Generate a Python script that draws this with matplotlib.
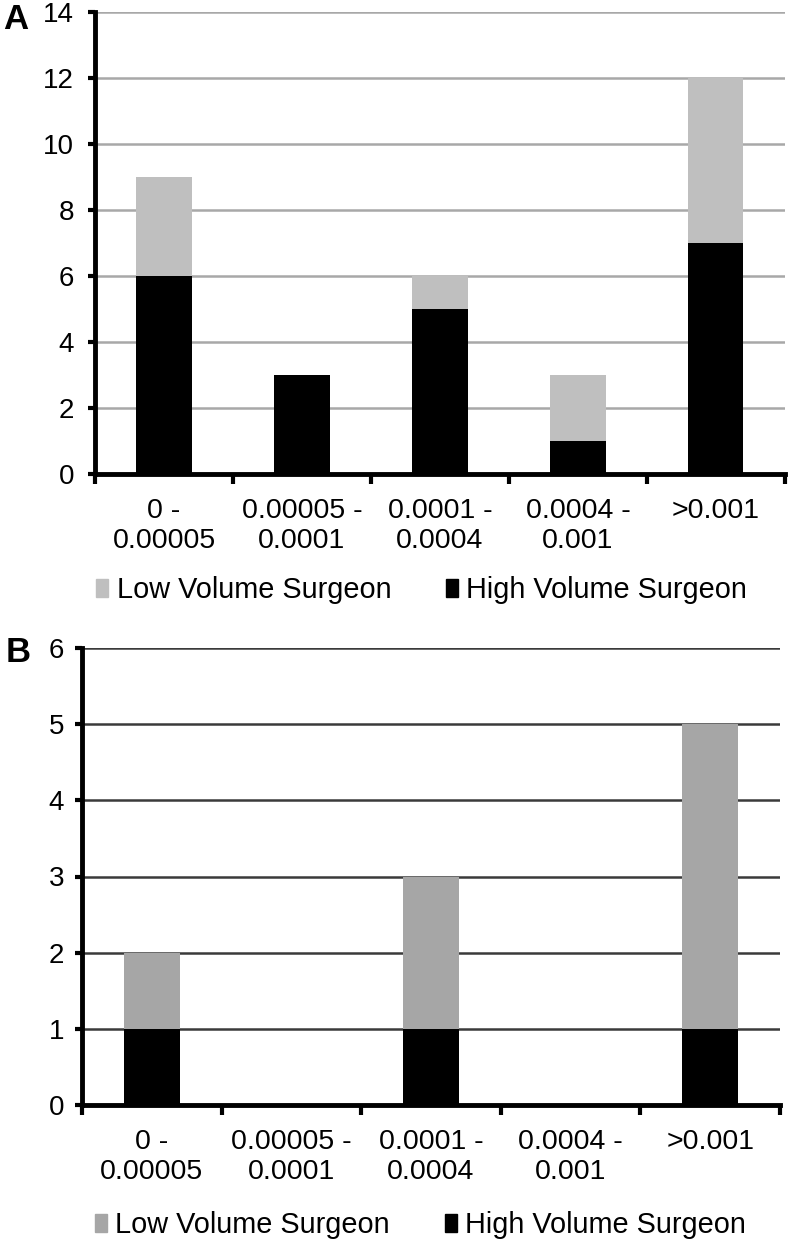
import matplotlib
matplotlib.use("Agg")
import matplotlib.pyplot as plt
import numpy as np
from matplotlib.patches import Patch

plt.rcParams["font.family"] = ["Liberation Sans", "DejaVu Sans"]

categories = ["0 -\n0.00005", "0.00005 -\n0.0001", "0.0001 -\n0.0004",
              "0.0004 -\n0.001", ">0.001"]
high_a = [6, 3, 5, 1, 7]
low_a = [3, 0, 1, 2, 5]
high_b = [1, 0, 1, 0, 1]
low_b = [1, 0, 2, 0, 4]
yticks_a = [0, 2, 4, 6, 8, 10, 12, 14]
yticks_b = [0, 1, 2, 3, 4, 5, 6]


def draw_panel(ax, high, low, yticks, low_color, grid_color, leg_x, leg_y, ypad):
    x = np.arange(len(categories))
    ax.bar(x, high, width=0.4, color="black", zorder=3)
    ax.bar(x, low, width=0.4, bottom=high, color=low_color, zorder=3)

    ax.set_xlim(-0.5, len(categories) - 0.5)
    ax.set_ylim(yticks[0], yticks[-1])
    ax.set_yticks(yticks)
    ax.yaxis.grid(True, color=grid_color, lw=1.8, zorder=0)
    ax.set_axisbelow(True)

    ax.set_xticks(x)
    ax.set_xticklabels(categories, fontsize=20.5, linespacing=1.2)
    ax.set_xticks(np.arange(-0.5, len(categories)), minor=True)
    ax.tick_params(axis="x", which="major", length=0, pad=17)
    ax.tick_params(axis="x", which="minor", direction="out", length=7, width=3)
    ax.tick_params(axis="y", direction="out", length=5, width=3,
                   labelsize=20, pad=ypad)

    for side in ("top", "right"):
        ax.spines[side].set_visible(False)
    ax.spines["left"].set_linewidth(3.5)
    ax.spines["bottom"].set_linewidth(3.5)

    handles = [Patch(color=low_color, label="Low Volume Surgeon"),
               Patch(color="black", label="High Volume Surgeon")]
    ax.legend(handles=handles, loc="center left", bbox_to_anchor=(leg_x, leg_y),
              frameon=False, fontsize=20.8, ncol=2, handlelength=0.4,
              handleheight=0.6, handletextpad=0.3, columnspacing=1.9,
              borderpad=0, borderaxespad=0)


fig = plt.figure(figsize=(7.92, 12.5), dpi=100)
ax_a = fig.add_axes([0.12, 0.6208, 0.871, 0.3696])
ax_b = fig.add_axes([0.1035, 0.116, 0.8815, 0.3656])

draw_panel(ax_a, high_a, low_a, yticks_a, "#bfbfbf", "#a8a8a8", 0.002, -0.251, 10)
draw_panel(ax_b, high_b, low_b, yticks_b, "#a6a6a6", "#3a3a3a", 0.019, -0.263, 8)

fig.text(0.004, 0.9844, "A", fontsize=25, fontweight="bold", va="center")
fig.text(0.0076, 0.4776, "B", fontsize=25, fontweight="bold", va="center")

fig.savefig("out.png", dpi=100)
